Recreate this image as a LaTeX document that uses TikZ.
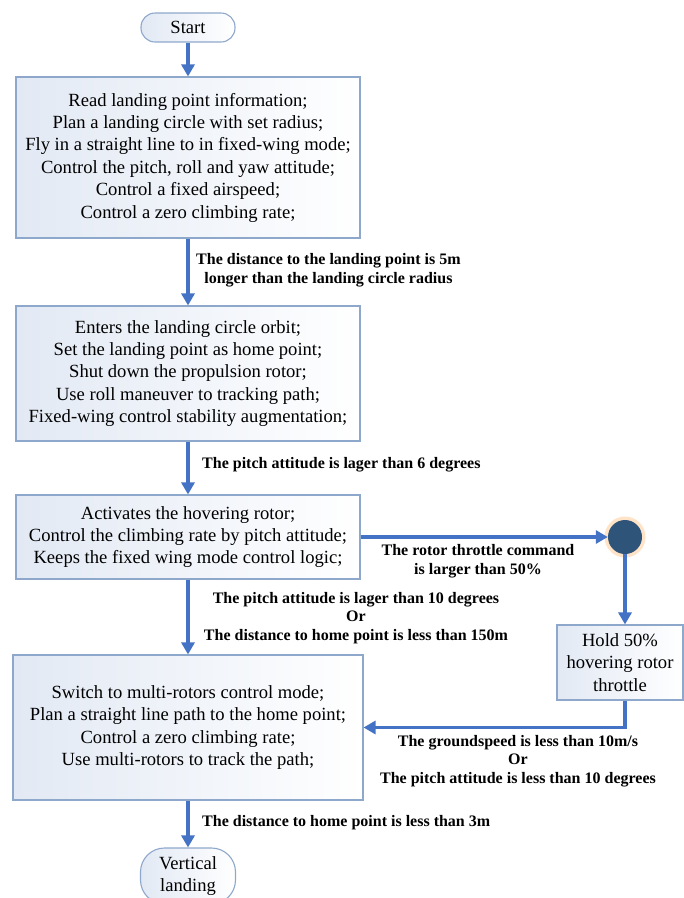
\documentclass[tikz,border=0pt]{standalone}
\usepackage{fontspec}
\setmainfont{Liberation Serif}
\usetikzlibrary{arrows.meta}
\definecolor{flowblue}{HTML}{4472C4}
\definecolor{boxedge}{HTML}{8EA8CC}
\definecolor{boxfill}{HTML}{E2E9F4}
\definecolor{juncfill}{HTML}{2F5479}
\begin{document}
\begin{tikzpicture}[x=1pt,y=-1pt,
    every node/.style={font=\fontsize{18.6}{22.4}\selectfont},
    procbox/.style={draw=boxedge,line width=1.1pt,left color=boxfill,right color=white,
        align=center,inner sep=2pt,minimum width=344pt},
    term/.style={draw=boxedge,line width=1.1pt,left color=boxfill,right color=white,
        align=center,inner sep=0pt,minimum width=94pt,rounded corners=14pt},
    junction/.style={circle,fill=juncfill,minimum size=34pt,inner sep=0pt},
    cond/.style={font=\bfseries\fontsize{16}{18.6}\selectfont,align=center,inner sep=0pt},
    flow/.style={draw=flowblue,line width=3.4pt,-{Triangle[length=12pt,width=13pt]}}]
    \clip (0,0) rectangle (684,898);
    \fill[white] (0,0) rectangle (684,898);
    \node[term,minimum height=29pt] (start) at (188,27.5) {Start};
    \node[procbox,minimum height=161pt] (read) at (188,157.5) {Read landing point information;\\
        Plan a landing circle with set radius;\\
        Fly in a straight line to in fixed-wing mode;\\
        Control the pitch, roll and yaw attitude;\\
        Control a fixed airspeed;\\
        Control a zero climbing rate;};
    \node[procbox,minimum height=135pt] (orbit) at (188,373.5) {Enters the landing circle orbit;\\
        Set the landing point as home point;\\
        Shut down the propulsion rotor;\\
        Use roll maneuver to tracking path;\\
        Fixed-wing control stability augmentation;};
    \node[procbox,minimum height=84pt] (hover) at (188,537) {Activates the hovering rotor;\\
        Control the climbing rate by pitch attitude;\\
        Keeps the fixed wing mode control logic;};
    \node[procbox,minimum width=350pt,minimum height=145pt] (multi) at (188,727.5) {Switch to multi-rotors control mode;\\
        Plan a straight line path to the home point;\\
        Control a zero climbing rate;\\
        Use multi-rotors to track the path;};
    \node[term,minimum width=95pt,minimum height=56pt,rounded corners=24pt] (vland) at (188,876) {Vertical\\landing};
    \fill[orange!22] (625,537) circle (20.5);
    \node[junction] (junc) at (625,537) {};
    \node[procbox,minimum width=126pt,minimum height=75pt] (hold) at (620,662.5) {Hold 50\%\\hovering rotor\\throttle};
    \draw[flow] (start) -- (read);
    \draw[flow] (read) -- (orbit);
    \draw[flow] (orbit) -- (hover);
    \draw[flow] (hover) -- (multi);
    \draw[flow] (multi) -- (vland);
    \draw[flow] (hover.east) -- (junc.west);
    \draw[flow] (junc.south) -- (junc.south |- hold.north);
    \draw[flow] (junc |- hold.south) |- (multi.east);
    \node[cond,anchor=west] (c1) at (196,270.5) {The distance to the landing point is 5m\\longer than the landing circle radius};
    \node[cond,anchor=west] (c2) at (202,465) {The pitch attitude is lager than 6 degrees};
    \node[cond] (c3) at (478,561) {The rotor throttle command\\is larger than 50\%};
    \node[cond] (c4) at (356,618) {The pitch attitude is lager than 10 degrees\\Or\\The distance to home point is less than 150m};
    \node[cond] (c5) at (518,761) {The groundspeed is less than 10m/s\\Or\\The pitch attitude is less than 10 degrees};
    \node[cond,anchor=west] (c6) at (202,823) {The distance to home point is less than 3m};
\end{tikzpicture}
\end{document}
